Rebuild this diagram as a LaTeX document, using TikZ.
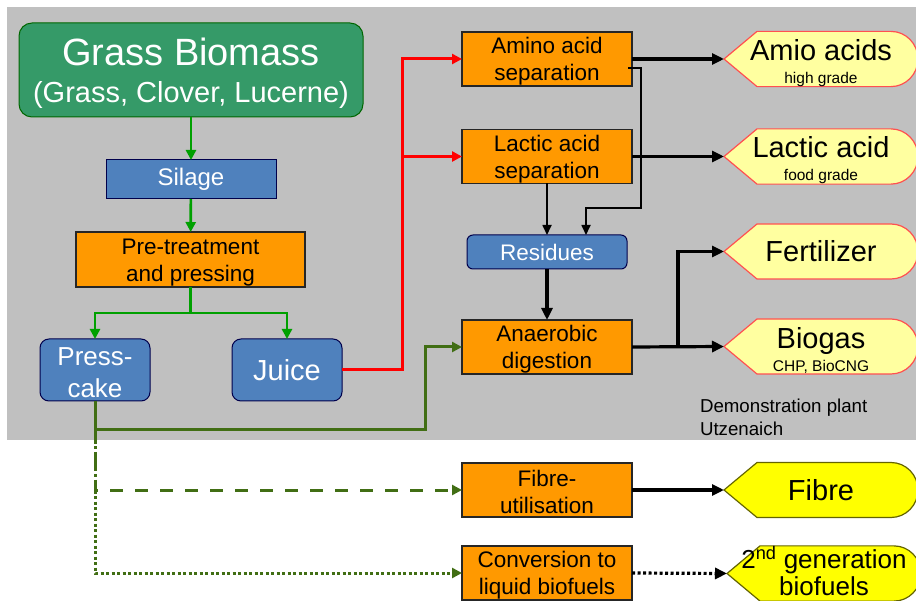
\documentclass[tikz,border=0pt]{standalone}
\usepackage{fontspec}
\setmainfont{Liberation Sans}
\usetikzlibrary{arrows.meta,calc,backgrounds}
\definecolor{bggray}{RGB}{192,192,192}
\definecolor{gboxc}{RGB}{53,154,104}
\definecolor{bboxc}{RGB}{79,129,189}
\definecolor{oboxc}{RGB}{255,153,0}
\definecolor{lgreen}{RGB}{0,160,0}
\definecolor{dgreen}{RGB}{65,110,20}
\definecolor{lyellow}{RGB}{255,255,160}
\definecolor{pred}{RGB}{255,80,80}
\definecolor{fyellow}{RGB}{255,255,0}
\definecolor{fborder}{RGB}{100,100,0}
\newcommand\prodshape[3]{%
  \begin{pgfonlayer}{background}
  \filldraw[fill=#2, draw=#3, line width=1.2pt]
    (#1.west) -- ([xshift=33pt]#1.north west) -- ([xshift=-27pt]#1.north east)
    .. controls ([xshift=-12pt]#1.north east) and ([yshift=15pt]#1.east) .. (#1.east)
    .. controls ([yshift=-15pt]#1.east) and ([xshift=-12pt]#1.south east) .. ([xshift=-27pt]#1.south east)
    -- ([xshift=33pt]#1.south west) -- cycle;
  \end{pgfonlayer}}
\begin{document}
\begin{tikzpicture}[x=1pt,y=-1pt,
  every node/.style={inner sep=0pt, outer sep=0pt},
  obox/.style={rectangle, fill=oboxc, draw=black!85, line width=1.3pt, minimum width=170pt, minimum height=54pt, align=center, font=\fontsize{22.5}{27}\selectfont},
  bluebox/.style={rectangle, fill=bboxc, draw=black!70!blue, line width=1pt, text=white, align=center},
  prod/.style={minimum width=194pt, minimum height=55pt, align=center, font=\fontsize{29}{23}\selectfont},
  gconn/.style={draw=lgreen, line width=2.7pt, -{Triangle[length=10pt,width=10pt]}},
  rconn/.style={draw=red, line width=3pt},
  rarrow/.style={draw=red, line width=3pt, -{Triangle[length=10pt,width=10pt]}},
  bconn/.style={draw=black, line width=3.2pt, -{Triangle[length=12pt,width=11pt]}},
  tconn/.style={draw=black, line width=1.7pt, -{Triangle[length=10pt,width=9pt]}},
  dgconn/.style={draw=dgreen, line width=3pt},
  dgarrow/.style={-{Triangle[length=10pt,width=10pt]}}
]
\useasboundingbox (0,0) rectangle (916,601);
\clip (0,0) rectangle (916,601);
\begin{pgfonlayer}{background}
\fill[bggray] (7,7) rectangle (916,440);
\end{pgfonlayer}

% left column
\node[rectangle, rounded corners=13pt, fill=gboxc, draw=black!60!green, line width=1pt, minimum width=344pt, minimum height=94pt, text=white, align=center, font=\fontsize{29}{37}\selectfont] (grass) at (191,70)
  {\rule{0pt}{34pt}{\fontsize{38}{37}\selectfont Grass Biomass}\\(Grass, Clover, Lucerne)};
\node[bluebox, minimum width=170pt, minimum height=39pt, font=\fontsize{24}{28}\selectfont] (silage) at (191,179.5) {Silage};
\node[obox, minimum width=229pt, minimum height=55pt] (pretreat) at (190.5,259.5) {\rule{0pt}{21pt}Pre-treatment\\and pressing};
\node[bluebox, rounded corners=9pt, minimum width=110pt, minimum height=62pt, font=\fontsize{26}{32}\selectfont] (presscake) at (95,370) {\rule{0pt}{23pt}Press-\\cake};
\node[bluebox, rounded corners=9pt, minimum width=110pt, minimum height=62pt, font=\fontsize{29}{32}\selectfont] (juice) at (287,370) {Juice};

% middle column
\node[obox] (amino) at (547,59) {\rule{0pt}{21pt}Amino acid\\separation};
\node[obox] (lactic) at (547,156.5) {\rule{0pt}{21pt}Lactic acid\\separation};
\node[bluebox, rounded corners=6pt, minimum width=160pt, minimum height=34pt, font=\fontsize{22.5}{27}\selectfont] (residues) at (547,252) {Residues};
\node[obox] (anaerobic) at (547,347) {\rule{0pt}{21pt}Anaerobic\\digestion};
\node[obox] (fibreutil) at (547,490) {\rule{0pt}{21pt}Fibre-\\utilisation};
\node[obox] (conversion) at (547,573) {\rule{0pt}{21pt}Conversion to\\liquid biofuels};

% products
\node[prod] (pamino) at (821,59) {\rule{0pt}{29pt}Amio acids\\{\fontsize{15.5}{23}\selectfont high grade}};
\prodshape{pamino}{lyellow}{pred}
\node[prod] (plactic) at (821,156.5) {\rule{0pt}{29pt}Lactic acid\\{\fontsize{15.5}{23}\selectfont food grade}};
\prodshape{plactic}{lyellow}{pred}
\node[prod] (pfert) at (821,251.5) {Fertilizer};
\prodshape{pfert}{lyellow}{pred}
\node[prod] (pbiogas) at (821,346.5) {\rule{0pt}{29pt}Biogas\\{\fontsize{15.5}{23}\selectfont CHP, BioCNG}};
\prodshape{pbiogas}{lyellow}{pred}
\node[prod] (pfibre) at (821,490) {Fibre};
\prodshape{pfibre}{fyellow}{fborder}
\node[prod, font=\fontsize{26}{27}\selectfont] (pbio2) at (824,573.5) {2\textsuperscript{nd} generation\\biofuels\rule[-6pt]{0pt}{6pt}};
\prodshape{pbio2}{fyellow}{fborder}

\node[anchor=north west, align=left, font=\fontsize{18.7}{23}\selectfont] (demo) at (700,399) {Demonstration plant\\Utzenaich};

% green connectors
\draw[gconn] (grass) -- (silage);
\draw[gconn] (silage) -- (pretreat);
\draw[gconn] (pretreat.south) -- ++(0,26) -| (presscake.north);
\draw[gconn] (pretreat.south) -- ++(0,26) -| (juice.north);

% red connectors
\coordinate (rsplit) at (402,156.5);
\draw[rconn] (juice.east) -| (rsplit);
\draw[rarrow] (rsplit) |- (amino.west);
\draw[rarrow] (rsplit) -- (lactic.west);

% black connectors
\draw[bconn] (amino.east) -- (pamino.west);
\draw[bconn] (lactic.east) -- (plactic.west);
\coordinate (t1) at ($(amino.east)+(-4,9)$);
\coordinate (tcorner) at (641,208);
\draw[tconn] (t1) -| (tcorner) -| ([xshift=39pt]residues.north);
\draw[tconn] (lactic.south) -- (residues.north);
\draw[bconn] (residues) -- (anaerobic);
\draw[bconn] (anaerobic.east) -- (pbiogas.west);
\coordinate (fsplit) at (678,347);
\draw[bconn] (fsplit) |- (pfert.west);
\draw[bconn] (fibreutil.east) -- (pfibre.west);
\draw[bconn, dash pattern=on 3pt off 2.5pt] (conversion.east) -- (pbio2.west);

% dark green connectors
\coordinate (gsplit) at (95,430);
\coordinate (gcorner) at (425,430);
\draw[dgconn, dgarrow] (presscake.south) -- (gsplit) -- (gcorner) |- (anaerobic.west);
\draw[dgconn, dgarrow, dash pattern=on 13pt off 12pt] (gsplit) |- (fibreutil.west);
\draw[dgconn, dgarrow, dash pattern=on 3pt off 2.5pt] (gsplit) |- (conversion.west);
\end{tikzpicture}
\end{document}
